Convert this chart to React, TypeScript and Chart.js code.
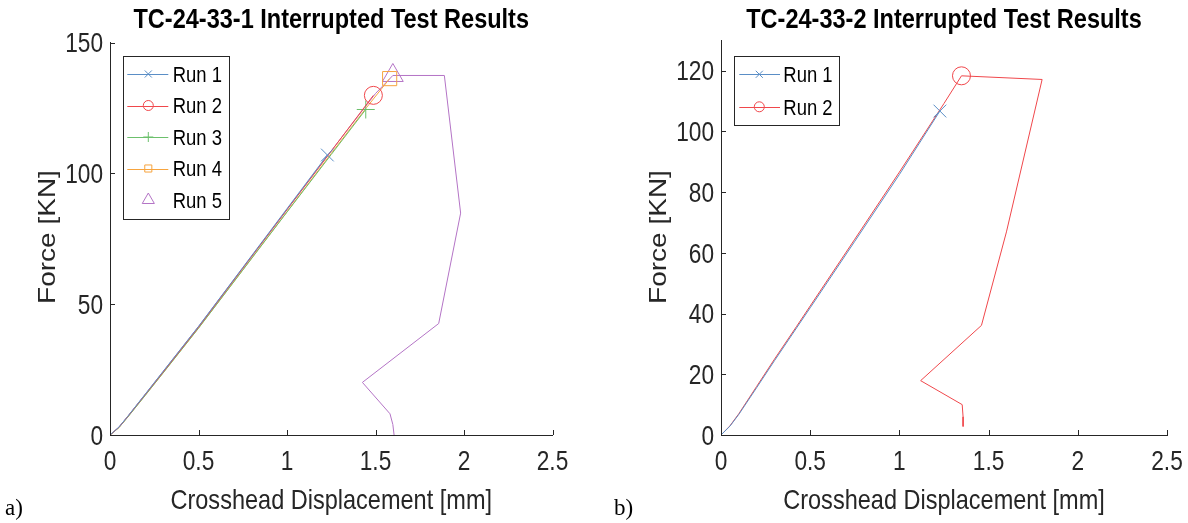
import React, { useEffect, useRef } from 'react';
import { Chart, registerables } from 'chart.js';

Chart.register(...registerables);

// ---------------- DATA ----------------
// Left panel: TC-24-33-1
const leftTitle = 'TC-24-33-1 Interrupted Test Results';
const leftXTicks = [0, 0.5, 1, 1.5, 2, 2.5];
const leftYTicks = [0, 50, 100, 150];

const l1X = [0, 0.05, 0.1, 0.2, 0.3, 0.5, 0.75, 1.0, 1.228];
const l1Y = [0, 3.0, 7.1, 15.7, 24.3, 41.5, 64.0, 86.5, 107.0];
const l2X = [0, 0.05, 0.1, 0.2, 0.3, 0.5, 0.75, 1.0, 1.25, 1.488];
const l2Y = [0, 2.9, 7.0, 15.5, 24.0, 41.2, 63.7, 86.1, 108.5, 129.8];
const l3X = [0, 0.05, 0.1, 0.2, 0.3, 0.5, 0.75, 1.0, 1.25, 1.445];
const l3Y = [0, 2.8, 6.8, 15.2, 23.7, 40.8, 63.0, 85.2, 107.2, 124.4];
const l4X = [0, 0.05, 0.1, 0.2, 0.3, 0.5, 0.75, 1.0, 1.25, 1.45, 1.58];
const l4Y = [0, 2.8, 6.9, 15.3, 23.8, 40.9, 63.1, 85.3, 107.6, 125.2, 136.2];
const l5X = [0, 0.05, 0.1, 0.2, 0.3, 0.5, 0.75, 1.0, 1.25, 1.5, 1.598, 1.889, 1.981, 1.857, 1.426, 1.582, 1.598, 1.605];
const l5Y = [0, 3.0, 7.1, 15.6, 24.2, 41.4, 63.8, 86.2, 108.6, 130.5, 137.4, 137.4, 84.8, 42.6, 20.1, 8.1, 4.0, 0];
const leftMarkerIdx = [8, 9, 9, 10, 10];

// Right panel: TC-24-33-2
const rightTitle = 'TC-24-33-2 Interrupted Test Results';
const rightXTicks = [0, 0.5, 1, 1.5, 2, 2.5];
const rightYTicks = [0, 20, 40, 60, 80, 100, 120];

const r1X = [0, 0.05, 0.1, 0.2, 0.3, 0.424, 0.5, 0.75, 1.0, 1.227];
const r1Y = [0, 2.9, 6.8, 15.6, 24.5, 35.3, 41.9, 63.8, 85.8, 106.7];
const r2X = [0, 0.05, 0.1, 0.2, 0.3, 0.424, 0.5, 0.75, 1.0, 1.25, 1.348, 1.80, 1.60, 1.46, 1.119, 1.352, 1.357, 1.357];
const r2Y = [0, 3.0, 7.0, 16.0, 25.0, 35.8, 42.5, 64.5, 86.6, 109.2, 118.3, 117.1, 66.9, 36.1, 17.9, 10.0, 6.0, 2.8];
const rightMarkerIdx = [9, 10];

const runLabels = ['Run 1', 'Run 2', 'Run 3', 'Run 4', 'Run 5'];
const runColors = ['#5a8ec6', '#f0474b', '#6cc06c', '#f7a43e', '#b474c6'];
const runMarkers = ['crossRot', 'circle', 'cross', 'rect', 'triangle'];

// ---------------- STYLE ----------------
const SANS = "'Liberation Sans', Arial, Helvetica, sans-serif";
const SQUEEZE = 0.84; // the reference's Helvetica text is horizontally condensed
const AXIS = '#262626';
const W = 594;
const H = 523;

function drawMarker(ctx: CanvasRenderingContext2D, style: string, x: number, y: number, r: number) {
  ctx.beginPath();
  if (style === 'circle') {
    ctx.arc(x, y, r, 0, Math.PI * 2);
  } else if (style === 'rect') {
    const s = r * Math.SQRT1_2;
    ctx.rect(x - s, y - s, 2 * s, 2 * s);
  } else if (style === 'cross') {
    ctx.moveTo(x - r, y); ctx.lineTo(x + r, y);
    ctx.moveTo(x, y - r); ctx.lineTo(x, y + r);
  } else if (style === 'crossRot') {
    const d = r * Math.SQRT1_2;
    ctx.moveTo(x - d, y - d); ctx.lineTo(x + d, y + d);
    ctx.moveTo(x - d, y + d); ctx.lineTo(x + d, y - d);
  } else if (style === 'triangle') {
    ctx.moveTo(x, y - r);
    ctx.lineTo(x + r * 0.866, y + r * 0.5);
    ctx.lineTo(x - r * 0.866, y + r * 0.5);
    ctx.closePath();
  }
  ctx.stroke();
}

function squeezedText(
  ctx: CanvasRenderingContext2D,
  text: string,
  x: number,
  y: number,
  font: string,
  color: string,
  align: CanvasTextAlign,
  baseline: CanvasTextBaseline,
  rotate = false,
) {
  ctx.save();
  ctx.translate(x, y);
  ctx.scale(SQUEEZE, 1);
  if (rotate) ctx.rotate(-Math.PI / 2);
  ctx.font = font;
  ctx.fillStyle = color;
  ctx.textAlign = align;
  ctx.textBaseline = baseline;
  ctx.fillText(text, 0, 0);
  ctx.restore();
}

type PanelSpec = {
  title: string;
  xTicks: number[];
  yTicks: number[];
  yMax: number;
  area: { left: number; right: number; top: number; bottom: number };
  series: { x: number[]; y: number[]; marker: number }[];
  legend: { box: [number, number, number, number]; rows: number[]; lineX: [number, number]; markX: number; textX: number; lineShown: boolean[] };
  yTitleX: number;
};

function buildConfig(p: PanelSpec): any {
  const markerRadii = [9, 9, 9, 10, 12];
  const datasets = p.series.map((s, i) => ({
    label: runLabels[i],
    data: s.x.map((xv, k) => ({ x: xv, y: s.y[k] })),
    showLine: true,
    borderColor: runColors[i],
    backgroundColor: 'rgba(0,0,0,0)',
    borderWidth: 1,
    pointStyle: runMarkers[i],
    pointBorderColor: runColors[i],
    pointBackgroundColor: 'rgba(0,0,0,0)',
    pointBorderWidth: 1,
    pointRadius: (c: any) => (c.dataIndex === s.marker ? markerRadii[i] : 0),
    pointHoverRadius: (c: any) => (c.dataIndex === s.marker ? markerRadii[i] : 0),
    tension: 0,
    clip: false,
  }));

  const decor = {
    id: 'decor',
    afterDraw(chart: any) {
      const { ctx, chartArea } = chart;
      const xs = chart.scales.x;
      const ys = chart.scales.y;
      const cx = (chartArea.left + chartArea.right) / 2;
      ctx.save();
      // inward ticks and tick labels
      ctx.strokeStyle = AXIS;
      ctx.lineWidth = 1;
      xs.ticks.forEach((t: any) => {
        const px = xs.getPixelForValue(t.value);
        const rx = Math.round(px) + 0.5;
        ctx.beginPath();
        ctx.moveTo(rx, chartArea.bottom);
        ctx.lineTo(rx, chartArea.bottom - 5);
        ctx.stroke();
        squeezedText(ctx, String(t.value), px, chartArea.bottom + 35, `27px ${SANS}`, AXIS, 'center', 'alphabetic');
      });
      ys.ticks.forEach((t: any) => {
        const py = ys.getPixelForValue(t.value);
        const ry = Math.round(py) + 0.5;
        ctx.strokeStyle = AXIS;
        ctx.beginPath();
        ctx.moveTo(chartArea.left, ry);
        ctx.lineTo(chartArea.left + 5, ry);
        ctx.stroke();
        squeezedText(ctx, String(t.value), chartArea.left - 7, py + 9.7, `27px ${SANS}`, AXIS, 'right', 'alphabetic');
      });
      // axis titles
      squeezedText(ctx, 'Crosshead Displacement [mm]', cx, 508.5, `28px ${SANS}`, AXIS, 'center', 'alphabetic');
      squeezedText(ctx, 'Force [KN]', p.yTitleX, 237, `28px ${SANS}`, AXIS, 'center', 'middle', true);
      // title
      squeezedText(ctx, p.title, cx, 28, `bold 28px ${SANS}`, '#000', 'center', 'alphabetic');
      // legend
      const [bx0, by0, bx1, by1] = p.legend.box;
      ctx.fillStyle = '#fff';
      ctx.fillRect(bx0, by0, bx1 - bx0, by1 - by0);
      ctx.strokeStyle = AXIS;
      ctx.lineWidth = 1;
      ctx.strokeRect(Math.round(bx0) + 0.5, Math.round(by0) + 0.5, Math.round(bx1 - bx0), Math.round(by1 - by0));
      p.series.forEach((_, i) => {
        const yy = p.legend.rows[i];
        ctx.strokeStyle = runColors[i];
        ctx.lineWidth = 1;
        if (p.legend.lineShown[i]) {
          ctx.beginPath();
          ctx.moveTo(p.legend.lineX[0], Math.round(yy) + 0.5);
          ctx.lineTo(p.legend.lineX[1], Math.round(yy) + 0.5);
          ctx.stroke();
        }
        drawMarker(ctx, runMarkers[i], p.legend.markX, yy, i === 4 ? 7 : 5);
        squeezedText(ctx, runLabels[i], p.legend.textX, yy + 7.9, `22px ${SANS}`, '#000', 'left', 'alphabetic');
      });
      ctx.restore();
    },
  };

  return {
    type: 'scatter',
    data: { datasets },
    plugins: [decor],
    options: {
      animation: false,
      responsive: false,
      maintainAspectRatio: false,
      events: [],
      layout: { padding: { left: 0, right: W - p.area.right, top: p.area.top, bottom: 0 } },
      plugins: { legend: { display: false }, tooltip: { enabled: false }, title: { display: false } },
      scales: {
        x: {
          type: 'linear',
          min: 0,
          max: 2.5,
          afterBuildTicks: (s: any) => { s.ticks = p.xTicks.map((v) => ({ value: v })); },
          afterFit: (s: any) => { s.height = H - p.area.bottom; },
          ticks: { display: false },
          grid: { drawOnChartArea: false, drawTicks: false },
          border: { display: true, color: AXIS, width: 1 },
        },
        y: {
          type: 'linear',
          min: 0,
          max: p.yMax,
          afterBuildTicks: (s: any) => { s.ticks = p.yTicks.map((v) => ({ value: v })); },
          afterFit: (s: any) => { s.width = p.area.left; },
          ticks: { display: false },
          grid: { drawOnChartArea: false, drawTicks: false },
          border: { display: true, color: AXIS, width: 1 },
        },
      },
    },
  };
}

const leftSpec: PanelSpec = {
  title: leftTitle,
  xTicks: leftXTicks,
  yTicks: leftYTicks,
  yMax: 150,
  area: { left: 110, right: 552.5, top: 42.5, bottom: 435 },
  series: [
    { x: l1X, y: l1Y, marker: leftMarkerIdx[0] },
    { x: l2X, y: l2Y, marker: leftMarkerIdx[1] },
    { x: l3X, y: l3Y, marker: leftMarkerIdx[2] },
    { x: l4X, y: l4Y, marker: leftMarkerIdx[3] },
    { x: l5X, y: l5Y, marker: leftMarkerIdx[4] },
  ],
  legend: { box: [122.7, 55.7, 229, 219], rows: [74, 105.5, 137, 168.5, 200], lineX: [127.3, 168.3], markX: 148.3, textX: 172.7, lineShown: [true, true, true, true, false] },
  yTitleX: 49,
};

const rightSpec: PanelSpec = {
  title: rightTitle,
  xTicks: rightXTicks,
  yTicks: rightYTicks,
  yMax: 130,
  area: { left: 127, right: 573, top: 40.3, bottom: 435 },
  series: [
    { x: r1X, y: r1Y, marker: rightMarkerIdx[0] },
    { x: r2X, y: r2Y, marker: rightMarkerIdx[1] },
  ],
  legend: { box: [140.3, 55.7, 245.3, 124.3], rows: [74.3, 106.8], lineX: [145.3, 186], markX: 165.3, textX: 189.3, lineShown: [true, true] },
  yTitleX: 65.5,
};

function Panel({ spec, left }: { spec: PanelSpec; left: number }) {
  const ref = useRef<HTMLCanvasElement | null>(null);
  useEffect(() => {
    if (!ref.current) return;
    const chart = new Chart(ref.current, buildConfig(spec));
    return () => chart.destroy();
  }, [spec]);
  return (
    <canvas
      ref={ref}
      width={W}
      height={H}
      style={{ position: 'absolute', left, top: 0, width: W, height: H }}
    />
  );
}

export default function App() {
  const lab: React.CSSProperties = {
    position: 'absolute',
    top: 496,
    fontFamily: "'Liberation Serif', 'Times New Roman', serif",
    fontSize: 23,
    lineHeight: '23px',
    color: '#000',
  };
  return (
    <div style={{ position: 'fixed', left: 0, top: 0, width: 1188, height: 523, background: '#fff', overflow: 'hidden' }}>
      <Panel spec={leftSpec} left={0} />
      <Panel spec={rightSpec} left={594} />
      <span style={{ ...lab, left: 5 }}>a)</span>
      <span style={{ ...lab, left: 614 }}>b)</span>
    </div>
  );
}
